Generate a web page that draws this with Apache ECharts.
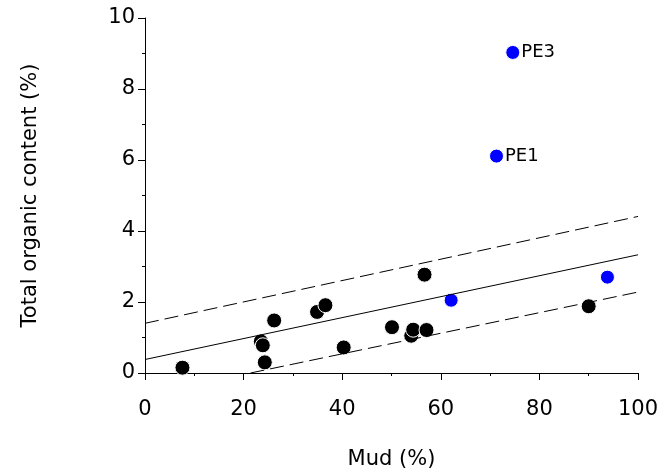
<!DOCTYPE html>
<html>
<head>
<meta charset="utf-8">
<script src="https://cdn.jsdelivr.net/npm/echarts@6/dist/echarts.min.js"></script>
<style>
html,body{margin:0;padding:0;background:#fff;}
#main{width:662px;height:475px;}
</style>
</head>
<body>
<div id="main"></div>
<script>
// 样本点 (Mud %, TOC %)
var blackPts = [
  [7.6, 0.15], [23.5, 0.89], [23.9, 0.78], [24.3, 0.30], [26.2, 1.48],
  [34.9, 1.72], [36.6, 1.91], [40.3, 0.72], [50.1, 1.29], [54.0, 1.05],
  [54.4, 1.22], [57.1, 1.21], [56.7, 2.77], [90.0, 1.88]
];
var bluePts = [[62.1, 2.05], [93.8, 2.70]];
var labelledPts = [[71.3, 6.11, 'PE1'], [74.6, 9.03, 'PE3']];
// 回归线及上下界
var fitLine = [[0, 0.38], [100, 3.33]];
var upperLine = [[0, 1.40], [100, 4.41]];
var lowerLine = [[21.4, 0], [100, 2.28]];
var xTicks = [0, 20, 40, 60, 80, 100];
var yTicks = [0, 2, 4, 6, 8, 10];

var font = 'DejaVu Sans';
var myChart = echarts.init(document.getElementById('main'));
var dashStyle = {color: '#000', width: 1, type: [14, 6]};

myChart.setOption({
  animation: false,
  grid: {left: 145, right: 24, top: 18, bottom: 102},
  xAxis: {
    type: 'value', min: xTicks[0], max: xTicks[xTicks.length - 1], interval: 20,
    name: 'Mud (%)', nameLocation: 'middle', nameGap: 76,
    nameTextStyle: {fontFamily: font, fontSize: 21, color: '#000'},
    axisLine: {lineStyle: {color: '#000', width: 1}},
    axisTick: {inside: false, length: 7, lineStyle: {color: '#000'}},
    minorTick: {show: true, splitNumber: 2, length: 3, lineStyle: {color: '#000'}},
    axisLabel: {fontFamily: font, fontSize: 21, color: '#000', margin: 26},
    splitLine: {show: false}
  },
  yAxis: {
    type: 'value', min: yTicks[0], max: yTicks[yTicks.length - 1], interval: 2,
    name: 'Total organic content (%)', nameLocation: 'middle', nameGap: 104,
    nameTextStyle: {fontFamily: font, fontSize: 21, color: '#000'},
    axisLine: {show: true, lineStyle: {color: '#000', width: 1}},
    axisTick: {show: true, inside: false, length: 7, lineStyle: {color: '#000'}},
    minorTick: {show: true, splitNumber: 2, length: 3, lineStyle: {color: '#000'}},
    axisLabel: {fontFamily: font, fontSize: 21, color: '#000', margin: 10},
    splitLine: {show: false}
  },
  series: [
    {type: 'line', data: upperLine, showSymbol: false, lineStyle: dashStyle, silent: true},
    {type: 'line', data: lowerLine, showSymbol: false, lineStyle: dashStyle, silent: true},
    {type: 'line', data: fitLine, showSymbol: false, lineStyle: {color: '#000', width: 1}, silent: true},
    {
      type: 'scatter', data: blackPts, symbolSize: 15,
      itemStyle: {color: '#000', borderColor: '#fff', borderWidth: 1, opacity: 1}
    },
    {
      type: 'scatter', data: bluePts, symbolSize: 14,
      itemStyle: {color: '#0000ff', borderColor: '#fff', borderWidth: 1, opacity: 1}
    },
    {
      type: 'scatter', data: labelledPts, symbolSize: 14,
      itemStyle: {color: '#0000ff', borderColor: '#fff', borderWidth: 1, opacity: 1},
      label: {
        show: true, position: 'right', distance: 1,
        fontFamily: font, fontSize: 18, color: '#000',
        formatter: function (p) { return p.value[2]; }
      }
    }
  ]
});
</script>
</body>
</html>
